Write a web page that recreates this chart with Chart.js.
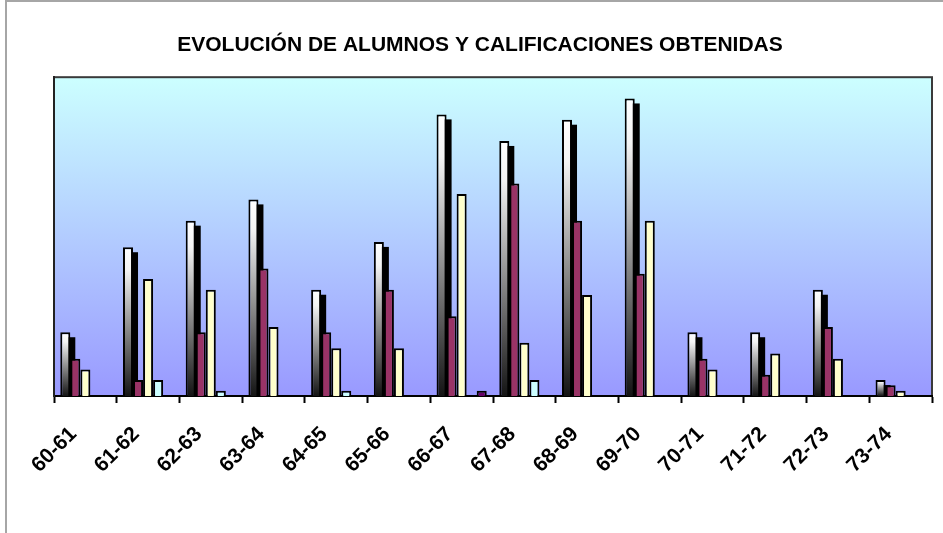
<!DOCTYPE html>
<html>
<head>
<meta charset="utf-8">
<script src="https://cdn.jsdelivr.net/npm/chart.js@4"></script>
<style>
  body { margin: 0; background: #fff; }
  #wrap { width: 943px; height: 533px; }
</style>
</head>
<body>
<div id="wrap"><canvas id="chart" width="943" height="533"></canvas></div>
<script>
const cursos = ["60-61", "61-62", "62-63", "63-64", "64-65", "65-66", "66-67",
                "67-68", "68-69", "69-70", "70-71", "71-72", "72-73", "73-74"];

// values (no y labels in the original, scale 0-60)
const serie1 = [12, 28, 33, 37, 20, 29, 53, 48, 52, 56, 12, 12, 20, 3];
const serie2 = [7, 3, 12, 24, 12, 20, 15, 40, 33, 23, 7, 4, 13, 2];
const serie3 = [5, 22, 20, 13, 9, 9, 38, 10, 19, 33, 5, 8, 7, 1];
const serie4 = [null, 3, 1, null, 1, null, null, 3, null, null, null, null, null, null];
const serie5 = [null, null, null, null, null, null, 1, null, null, null, null, null, null, null];

const yMin = 0;
const yMax = 60;

// white -> black gradient for every bar of the first series
function barGradient(context) {
    const chart = context.chart;
    const y = chart.scales.y;
    if (!chart.chartArea || !y || context.raw == null) return '#ffffff';
    const top = y.getPixelForValue(context.raw);
    const bottom = y.getPixelForValue(0);
    const g = chart.ctx.createLinearGradient(0, top, 0, bottom);
    g.addColorStop(0, '#ffffff');
    g.addColorStop(0.15, '#f4f4f4');
    g.addColorStop(1, '#141414');
    return g;
}

const plotBackground = {
    id: 'plotBackground',
    beforeDraw(chart) {
        const { ctx, chartArea } = chart;
        const { left, top, right, bottom } = chartArea;
        ctx.save();
        // outer chart frame (only left and top visible)
        ctx.fillStyle = '#a6a6a6';
        ctx.fillRect(5, 0, 2, chart.height);
        ctx.fillRect(5, 0, chart.width - 5, 2);
        const g = ctx.createLinearGradient(0, top, 0, bottom);
        g.addColorStop(0, '#ccffff');
        g.addColorStop(1, '#9999ff');
        ctx.fillStyle = g;
        ctx.fillRect(left, top, right - left, bottom - top);
        ctx.strokeStyle = '#3a3a3a';
        ctx.lineWidth = 2;
        ctx.strokeRect(left, top, right - left, bottom - top);
        ctx.restore();
    }
};

// black drop shadow behind the bars of the first series,
// painted before any dataset so the other bars cover it
const barShadow = {
    id: 'barShadow',
    beforeDatasetsDraw(chart) {
        const ctx = chart.ctx;
        const meta = chart.getDatasetMeta(0);
        ctx.save();
        ctx.fillStyle = '#000000';
        meta.data.forEach(bar => {
            const p = bar.getProps(['x', 'y', 'base', 'width'], true);
            const left = p.x - p.width / 2 + 5;
            const top = p.y + 5;
            if (p.base - top > 0) ctx.fillRect(left, top, p.width, p.base - top);
        });
        ctx.restore();
    }
};

new Chart(document.getElementById('chart'), {
    type: 'bar',
    data: {
        labels: cursos,
        datasets: [
            { data: serie1, backgroundColor: barGradient },
            { data: serie2, backgroundColor: '#993366' },
            { data: serie3, backgroundColor: '#ffffcc' },
            { data: serie4, backgroundColor: '#ccffff' },
            { data: serie5, backgroundColor: '#660066' }
        ]
    },
    options: {
        responsive: false,
        animation: false,
        layout: { padding: { left: 28, right: 11, top: 0, bottom: 0 } },
        datasets: {
            bar: {
                borderColor: '#000000',
                borderWidth: 2,
                categoryPercentage: 0.8,
                barPercentage: 1.0
            }
        },
        plugins: {
            legend: { display: false },
            tooltip: { enabled: false },
            title: {
                display: true,
                text: 'EVOLUCIÓN DE ALUMNOS Y CALIFICACIONES OBTENIDAS',
                color: '#000000',
                font: { family: 'Liberation Sans, Arial, sans-serif', size: 21, weight: 'bold' },
                padding: { top: 33, bottom: 19 }
            }
        },
        scales: {
            x: {
                grid: {
                    display: true,
                    drawOnChartArea: false,
                    drawTicks: true,
                    tickLength: 7,
                    tickWidth: 2,
                    color: '#000000',
                    offset: true
                },
                border: { display: true, color: '#000000', width: 2 },
                ticks: {
                    color: '#000000',
                    font: { family: 'Liberation Sans, Arial, sans-serif', size: 21, weight: 'bold' },
                    minRotation: 45,
                    maxRotation: 45,
                    padding: 19,
                    labelOffset: -12
                },
                afterFit(scale) { scale.height = 137; }
            },
            y: {
                min: yMin,
                max: yMax,
                grid: { display: false },
                border: { display: true, color: '#222222', width: 2 },
                ticks: { display: false },
                afterFit(scale) { scale.width = 26; }
            }
        }
    },
    plugins: [plotBackground, barShadow]
});
</script>
</body>
</html>
